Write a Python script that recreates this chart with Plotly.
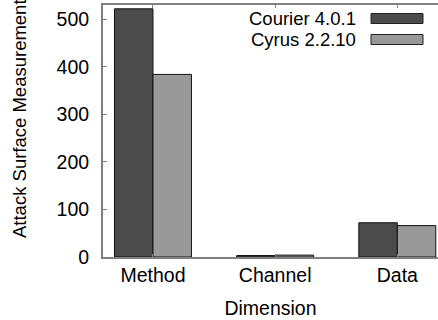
import plotly.graph_objects as go

# Attack surface measurement per dimension for two mail servers
dimensions = ["Method", "Channel", "Data"]
courier_values = [522, 3, 72]
cyrus_values = [384, 4, 66]
series_names = ["Courier 4.0.1", "Cyrus 2.2.10"]
series_colors = ["#4b4b4b", "#999999"]
y_ticks = [0, 100, 200, 300, 400, 500]

FONT = "Liberation Sans, Arial, Helvetica, sans-serif"
AXIS_GREY = "#808080"

fig = go.Figure()
for name, values, color in zip(series_names, [courier_values, cyrus_values], series_colors):
    fig.add_trace(go.Bar(
        x=dimensions, y=values, name=name,
        marker=dict(color=color, line=dict(color="#111111", width=1)),
        showlegend=False,
    ))

W, H = 438, 320
ml, mr, mt, mb = 103, 0, 5, 63
pw, ph = W - ml - mr, H - mt - mb


def px_x(x):
    return (x - ml) / pw


def px_y(y):
    return (H - mb - y) / ph


# Legend drawn as right-aligned labels followed by wide swatches
row_centers = [18.5, 39.5]
for name, color, yc in zip(series_names, series_colors, row_centers):
    fig.add_annotation(
        x=px_x(357), y=px_y(yc), xref="paper", yref="paper",
        text=name, showarrow=False, xanchor="right", yanchor="middle",
        borderpad=0,
        font=dict(family=FONT, size=18.5, color="black"),
    )
    fig.add_shape(
        type="rect", xref="paper", yref="paper",
        x0=px_x(371), x1=px_x(423), y0=px_y(yc - 5), y1=px_y(yc + 5),
        fillcolor=color, line=dict(color="#222222", width=1),
    )

# Y axis title
fig.add_annotation(
    x=px_x(20), y=px_y(119), xref="paper", yref="paper",
    text="Attack Surface Measurement", showarrow=False, textangle=-90,
    xanchor="center", yanchor="middle",
    font=dict(family=FONT, size=18.5, color="black"),
)

fig.update_layout(
    width=W, height=H,
    margin=dict(l=ml, r=mr, t=mt, b=mb, pad=0),
    paper_bgcolor="white", plot_bgcolor="white",
    barmode="group", bargap=0.37, bargroupgap=0,
    font=dict(family=FONT, size=19.5, color="black"),
    xaxis=dict(
        type="category", range=[-0.409, 2.333],
        showline=True, linecolor=AXIS_GREY, linewidth=2, mirror="ticks",
        ticks="inside", ticklen=3, tickcolor=AXIS_GREY, tickwidth=1,
        showgrid=False, zeroline=False,
        tickfont=dict(family=FONT, size=19.5, color="black"),
        title=dict(text="Dimension", standoff=16,
                   font=dict(family=FONT, size=19.5, color="black")),
    ),
    yaxis=dict(
        range=[0, 530], tickvals=y_ticks,
        showline=True, linecolor=AXIS_GREY, linewidth=2,
        ticks="inside", ticklen=4, tickcolor=AXIS_GREY, tickwidth=1,
        showgrid=False, zeroline=False,
        tickfont=dict(family=FONT, size=19.5, color="black"),
        ticklabelstandoff=8,
    ),
)

fig.write_html("out.html")
